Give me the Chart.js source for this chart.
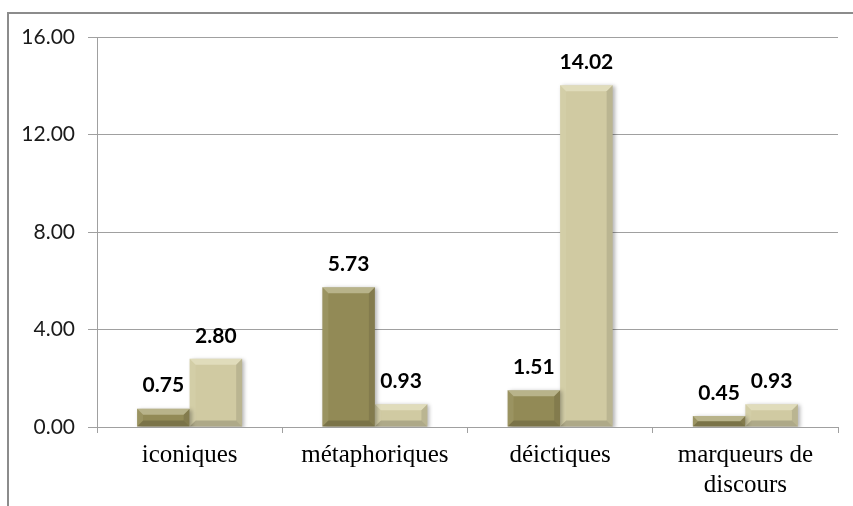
<!DOCTYPE html>
<html>
<head>
<meta charset="utf-8">
<script src="https://cdn.jsdelivr.net/npm/chart.js@4/dist/chart.umd.min.js"></script>
<style>
  html, body { margin: 0; padding: 0; background: #fff; }
  #wrap { width: 853px; height: 506px; position: relative; }
</style>
</head>
<body>
<div id="wrap"><canvas id="c" width="853" height="506"></canvas></div>
<script>
const categories = ['iconiques', 'métaphoriques', 'déictiques', ['marqueurs de', 'discours']];
const seriesA = [0.75, 5.73, 1.51, 0.45];
const seriesB = [2.80, 0.93, 14.02, 0.93];
const yTicks = [0, 4, 8, 12, 16];

const darkColor = 'rgb(146,138,86)';
const lightColor = 'rgb(208,202,162)';

const frame = {
  id: 'frame',
  beforeDraw(chart) {
    const ctx = chart.ctx;
    ctx.save();
    ctx.fillStyle = '#fff';
    ctx.fillRect(0, 0, chart.width, chart.height);
    ctx.strokeStyle = '#8c8c8c';
    ctx.lineWidth = 2;
    ctx.beginPath();
    ctx.moveTo(8, chart.height);
    ctx.lineTo(8, 13);
    ctx.lineTo(chart.width, 13);
    ctx.stroke();
    ctx.restore();
  }
};

const bevel = {
  id: 'bevel',
  beforeDatasetsDraw(chart) {
    const ctx = chart.ctx;
    ctx.save();
    ctx.shadowColor = 'rgba(0,0,0,0.3)';
    ctx.shadowBlur = 4;
    ctx.shadowOffsetX = 2;
    ctx.shadowOffsetY = 1;
  },
  afterDatasetsDraw(chart) {
    const ctx = chart.ctx;
    ctx.restore();
    ctx.save();
    chart.data.datasets.forEach((ds, di) => {
      const meta = chart.getDatasetMeta(di);
      meta.data.forEach((el, i) => {
        const p = el.getProps(['x', 'y', 'base', 'width'], true);
        const l = p.x - p.width / 2, r = p.x + p.width / 2;
        const t = Math.min(p.y, p.base), bt = Math.max(p.y, p.base);
        const h = bt - t;
        const b = Math.min(6, h / 2, p.width / 2);
        const poly = (pts, fill) => {
          ctx.beginPath();
          ctx.moveTo(pts[0][0], pts[0][1]);
          for (let k = 1; k < pts.length; k++) ctx.lineTo(pts[k][0], pts[k][1]);
          ctx.closePath();
          ctx.fillStyle = fill;
          ctx.fill();
        };
        poly([[l, t], [r, t], [r - b, t + b], [l + b, t + b]], 'rgba(255,255,235,0.35)');
        poly([[l, t], [l + b, t + b], [l + b, bt - b], [l, bt]], 'rgba(255,255,235,0.08)');
        poly([[r, t], [r - b, t + b], [r - b, bt - b], [r, bt]], 'rgba(0,0,0,0.10)');
        poly([[l, bt], [l + b, bt - b], [r - b, bt - b], [r, bt]], 'rgba(0,0,0,0.16)');
        ctx.fillStyle = '#000';
        ctx.font = 'bold 21px Lato';
        ctx.textAlign = 'center';
        ctx.textBaseline = 'middle';
        ctx.fillText(ds.data[i].toFixed(2), p.x, t - 23);
      });
    });
    ctx.restore();
  }
};

new Chart(document.getElementById('c'), {
  type: 'bar',
  data: {
    labels: categories,
    datasets: [
      { label: 'A', data: seriesA, backgroundColor: darkColor, barPercentage: 1.0, categoryPercentage: 0.567 },
      { label: 'B', data: seriesB, backgroundColor: lightColor, barPercentage: 1.0, categoryPercentage: 0.567 }
    ]
  },
  options: {
    responsive: false,
    animation: false,
    devicePixelRatio: 1,
    layout: { padding: { left: 0, top: 37, right: 15, bottom: 0 } },
    plugins: { legend: { display: false }, tooltip: { enabled: false } },
    scales: {
      x: {
        grid: { display: true, drawOnChartArea: false, drawTicks: true, tickLength: 6, color: '#a0a0a0', offset: true },
        border: { display: true, color: '#a0a0a0', width: 1 },
        ticks: { color: '#000', font: { family: 'Liberation Serif', size: 25, lineHeight: 1.22 }, padding: 7, maxRotation: 0, autoSkip: false },
        afterFit(scale) { scale.height = 79; }
      },
      y: {
        min: 0, max: 16,
        afterBuildTicks(scale) { scale.ticks = yTicks.map(v => ({ value: v })); },
        grid: { color: '#a0a0a0', tickLength: 9, drawTicks: true },
        border: { display: true, color: '#a0a0a0', width: 1 },
        ticks: { color: '#1a1a1a', font: { family: 'Lato', size: 21 }, padding: 13, callback: v => Number(v).toFixed(2) },
        afterFit(scale) { scale.width = 97; }
      }
    }
  },
  plugins: [frame, bevel]
});
</script>
</body>
</html>
